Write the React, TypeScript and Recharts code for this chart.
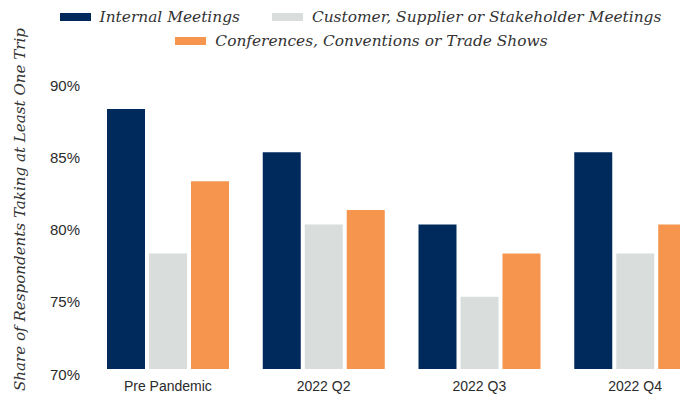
import { BarChart, Bar, XAxis, YAxis, Legend, Label } from 'recharts';

const categories = ['Pre Pandemic', '2022 Q2', '2022 Q3', '2022 Q4'];
const internalMeetings = [88, 85, 80, 85];
const customerMeetings = [78, 80, 75, 78];
const conferences = [83, 81, 78, 80];
const yTicks = [70, 75, 80, 85, 90];

const SERIES = [
  { key: 'internal', name: 'Internal Meetings', color: '#012a5c' },
  { key: 'customer', name: 'Customer, Supplier or Stakeholder Meetings', color: '#d9dedd' },
  { key: 'conferences', name: 'Conferences, Conventions or Trade Shows', color: '#f5954e' },
];

const data = categories.map((c, i) => ({
  category: c,
  internal: internalMeetings[i],
  customer: customerMeetings[i],
  conferences: conferences[i],
}));

const SERIF = '"DejaVu Serif", serif';
const SANS = '"Liberation Sans", Arial, sans-serif';
const W = 723;

function LegendItem({ s }: { s: typeof SERIES[number] }) {
  return (
    <div style={{ display: 'flex', alignItems: 'center' }}>
      <span style={{ display: 'inline-block', width: 31, height: 8, background: s.color, marginRight: 9 }} />
      <span style={{ fontFamily: SERIF, fontStyle: 'italic', fontSize: 15.4, color: '#333' }}>{s.name}</span>
    </div>
  );
}

function renderLegend() {
  return (
    <div style={{ width: W, display: 'flex', flexDirection: 'column', alignItems: 'center' }}>
      <div style={{ display: 'flex', gap: 32, height: 24, alignItems: 'center', marginLeft: -2 }}>
        <LegendItem s={SERIES[0]} />
        <LegendItem s={SERIES[1]} />
      </div>
      <div style={{ display: 'flex', height: 24, alignItems: 'center' }}>
        <LegendItem s={SERIES[2]} />
      </div>
    </div>
  );
}

const YTick = ({ x, y, payload }: any) => (
  <text x={x} y={y + 5} textAnchor="end" dominantBaseline="central" fill="#2b2b2b" fontSize={15} fontFamily={SANS}>
    {payload.value}%
  </text>
);

const XTick = ({ x, y, payload }: any) => (
  <text x={x} y={y + 5} textAnchor="middle" dominantBaseline="central" fill="#2b2b2b" fontSize={14} fontFamily={SANS}>
    {payload.value}
  </text>
);

const YLabel = ({ viewBox }: any) => {
  const cx = viewBox.x + 20;
  const cy = viewBox.y + viewBox.height / 2 - 15;
  return (
    <text
      x={cx}
      y={cy}
      transform={`rotate(-90 ${cx} ${cy})`}
      textAnchor="middle"
      dominantBaseline="central"
      fill="#333"
      fontSize={15.1}
      fontStyle="italic"
      fontFamily={SERIF}
    >
      Share of Respondents Taking at Least One Trip
    </text>
  );
};

export default function App() {
  return (
    <div style={{ position: 'fixed', left: 0, top: 0, width: 680, height: 400, overflow: 'hidden', background: '#fff' }}>
      <BarChart
        width={W}
        height={400}
        data={data}
        margin={{ top: 80, right: 10, bottom: 0, left: 0 }}
        barSize={38}
        barGap={4}
      >
        <XAxis
          dataKey="category"
          axisLine={false}
          tickLine={false}
          tickSize={0}
          tickMargin={12}
          height={31}
          tick={<XTick />}
          interval={0}
        />
        <YAxis
          domain={[70, 90]}
          ticks={yTicks}
          axisLine={false}
          tickLine={false}
          tickSize={0}
          tickMargin={10}
          width={90}
          tick={<YTick />}
          interval={0}
        >
          <Label content={<YLabel />} />
        </YAxis>
        <Legend
          layout="horizontal"
          verticalAlign="middle"
          content={renderLegend}
          wrapperStyle={{ position: 'absolute', left: 0, top: 5, width: W }}
        />
        {SERIES.map((s) => (
          <Bar key={s.key} dataKey={s.key} name={s.name} fill={s.color} isAnimationActive={false} />
        ))}
      </BarChart>
    </div>
  );
}
